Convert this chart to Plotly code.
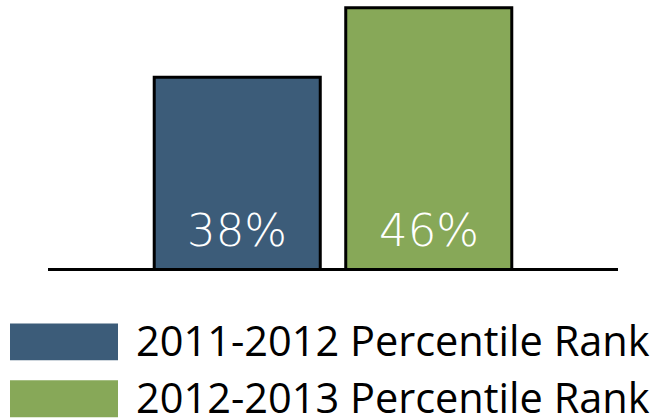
import plotly.graph_objects as go

category = ["Rank"]
series_names = ["2011-2012 Percentile Rank", "2012-2013 Percentile Rank"]
values = [38, 46]
labels = ["38%", "46%"]
colors = ["#3C5C79", "#87A858"]

Y_MIN, Y_MAX = 16.06, 46.9

W, H = 662, 418
PL, PR = 48, 618          # plot area left/right in pixels
PT, PB = 0, 268.5         # plot area top/bottom in pixels

fig = go.Figure()
for name, v, c in zip(series_names, values, colors):
    fig.add_trace(go.Bar(
        x=category, y=[v], name=name,
        marker=dict(color=c, line=dict(color="black", width=3)),
        showlegend=False, hoverinfo="skip",
    ))

offsets = [-95.75, 95.75]
for lab, off in zip(labels, offsets):
    fig.add_annotation(
        x=category[0], y=Y_MIN, xref="x", yref="y",
        text=lab, showarrow=False, xshift=off, yanchor="bottom", yshift=9,
        font=dict(family="DejaVu Sans", size=45, color="white", weight=200),
    )

def px(xpix):
    return (xpix - PL) / (PR - PL)

def py(ypix):
    return (PB - ypix) / (PB - PT)

leg_y = [342.5, 399.5]
text_y = [340.5, 397.5]
for name, c, yc, ty in zip(series_names, colors, leg_y, text_y):
    fig.add_shape(type="rect", xref="paper", yref="paper",
                  x0=px(10), x1=px(118), y0=py(yc + 18.5), y1=py(yc - 18.5),
                  line=dict(width=0), fillcolor=c)
    fig.add_annotation(xref="paper", yref="paper", x=px(134), y=py(ty),
                       xanchor="left", yanchor="middle", text=name, showarrow=False,
                       height=2 * (H - 397.5) - 1, valign="middle",
                       font=dict(family="Open Sans", size=41.5, color="black"))

fig.update_layout(
    width=W, height=H,
    margin=dict(l=PL, r=W - PR, t=PT, b=H - PB),
    plot_bgcolor="white", paper_bgcolor="white",
    barmode="group", bargap=0.328, bargroupgap=0.133,
    xaxis=dict(showline=True, linecolor="black", linewidth=3, showticklabels=False,
               ticks="", showgrid=False, zeroline=False),
    yaxis=dict(range=[Y_MIN, Y_MAX], visible=False, showgrid=False),
    showlegend=False,
)
fig.write_html("out.html")
